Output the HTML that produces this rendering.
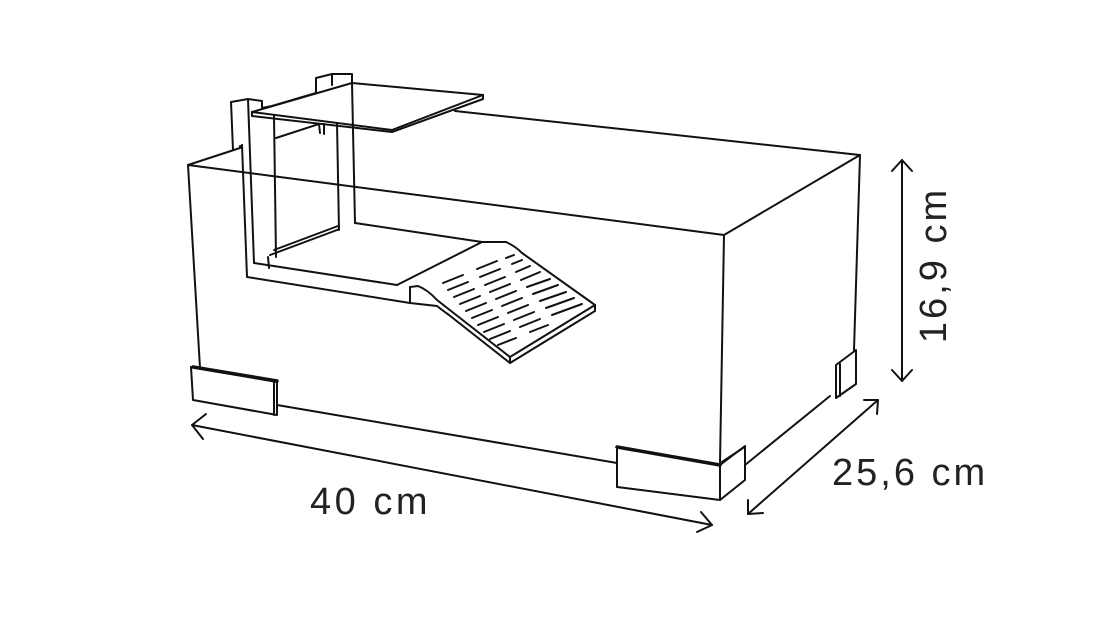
<!DOCTYPE html>
<html><head><meta charset="utf-8"><style>
html,body{margin:0;padding:0;background:#fff;width:1100px;height:627px;overflow:hidden}
text{font-family:"Liberation Sans",sans-serif;fill:#222}
</style></head><body>
<svg width="1100" height="627" viewBox="0 0 1100 627" xmlns="http://www.w3.org/2000/svg">
<g fill="none" stroke="#111" stroke-width="2" stroke-linejoin="round" stroke-linecap="round">
<polyline points="188,165 240,148 240,146"/>
<line x1="188" y1="165" x2="200" y2="368"/>
<line x1="188" y1="165" x2="724" y2="235"/>
<line x1="724" y1="235" x2="860" y2="155"/>
<line x1="455" y1="111" x2="860" y2="155"/>
<line x1="860" y1="155" x2="854" y2="350"/>
<line x1="724" y1="235" x2="720" y2="463"/>
<line x1="277" y1="405" x2="617" y2="463"/>
<line x1="745" y1="465" x2="830" y2="396"/>
<polyline points="233,150 231,102 248,99 262,101 262,108 272,106"/>
<line x1="248" y1="99" x2="254" y2="263"/>
<polyline points="242,145 247,277 410,303"/>
<line x1="242" y1="145" x2="240" y2="148"/>
<line x1="254" y1="263" x2="397" y2="285"/>
<polyline points="272,106 316,93 316,78 332,74 352,74 352,83"/>
<line x1="332" y1="74" x2="332" y2="85"/>
<line x1="352" y1="83" x2="355" y2="223"/>
<line x1="355" y1="223" x2="482" y2="242"/>
<line x1="337" y1="123" x2="339" y2="230"/>
<line x1="274" y1="116" x2="276" y2="257"/>
<line x1="276" y1="138" x2="319" y2="124"/>
<polyline points="270,255 337,230 339,229"/>
<line x1="274" y1="250" x2="338" y2="226"/>
<line x1="268" y1="257" x2="269" y2="268"/>
<line x1="319" y1="124" x2="320" y2="133"/>
<line x1="324" y1="124" x2="324" y2="134"/>
<polygon points="252,112 352,83 483,95 392,130"/>
<polyline points="252,112 252,116 392,132 483,99 483,95"/>
<line x1="397" y1="285" x2="482" y2="242"/>
<path d="M482,242 L506,242 Q515,246 522,253 L595,305"/>
<path d="M410,287 L418,286 Q428,290 437,300 L510,357"/>
<polyline points="595,305 595,311 510,363 510,357 595,305"/>
<line x1="410" y1="287" x2="410" y2="303"/>
<path d="M410,303 L437,306 Q442,310 449,315 L510,363"/>
<polygon points="191,367 277,382 277,415 193,400"/>
<line x1="193" y1="367" x2="277" y2="381" stroke-width="3.5"/>
<line x1="274" y1="382" x2="274" y2="415"/>
<polygon points="617,447 720,465 720,500 617,487"/>
<line x1="617" y1="447" x2="720" y2="465" stroke-width="3.5"/>
<polyline points="720,500 745,480 745,446 720,465"/>
<line x1="722" y1="462" x2="743" y2="448"/>
<polygon points="836,365 856,350 856,384 836,398"/>
<line x1="840" y1="364" x2="840" y2="396"/>
<line x1="192" y1="425" x2="712" y2="525"/>
<polyline points="206,414 192,425 203,439"/>
<polyline points="701,512 712,525 697,532"/>
<line x1="748" y1="514" x2="878" y2="400"/>
<polyline points="748,500 748,514 763,513"/>
<polyline points="864,400 878,400 877,414"/>
<line x1="902" y1="160" x2="902" y2="381"/>
<polyline points="892,171 902,160 912,171"/>
<polyline points="892,370 902,381 912,370"/>
</g>
<g stroke="#111" stroke-width="2" stroke-linecap="round">
<line x1="443" y1="283" x2="463" y2="275"/><line x1="477" y1="269" x2="497" y2="261"/><line x1="506" y1="258" x2="514" y2="255"/>
<line x1="448" y1="290" x2="468" y2="282"/><line x1="480" y1="277" x2="500" y2="269"/><line x1="512" y1="264" x2="522" y2="260"/>
<line x1="454" y1="297" x2="474" y2="289"/><line x1="485" y1="285" x2="505" y2="277"/><line x1="516" y1="272" x2="530" y2="266"/>
<line x1="460" y1="304" x2="480" y2="296"/><line x1="490" y1="292" x2="510" y2="284"/><line x1="521" y1="280" x2="540" y2="272"/>
<line x1="466" y1="311" x2="486" y2="303"/><line x1="496" y1="299" x2="516" y2="291"/><line x1="527" y1="287" x2="550" y2="279"/>
<line x1="472" y1="318" x2="492" y2="310"/><line x1="502" y1="306" x2="522" y2="298"/><line x1="533" y1="294" x2="558" y2="285"/>
<line x1="478" y1="325" x2="498" y2="317"/><line x1="508" y1="313" x2="528" y2="305"/><line x1="540" y1="301" x2="566" y2="292"/>
<line x1="484" y1="332" x2="504" y2="324"/><line x1="514" y1="320" x2="534" y2="312"/><line x1="546" y1="308" x2="574" y2="298"/>
<line x1="490" y1="339" x2="510" y2="331"/><line x1="520" y1="327" x2="540" y2="319"/><line x1="552" y1="315" x2="582" y2="304"/>
<line x1="498" y1="345" x2="516" y2="338"/><line x1="530" y1="332" x2="548" y2="325"/>
</g>
<text x="310" y="514" font-size="38" letter-spacing="3.5">40 cm</text>
<text x="832" y="485" font-size="38" letter-spacing="3">25,6 cm</text>
<text transform="translate(946,265) rotate(-90)" text-anchor="middle" font-size="38" letter-spacing="3">16,9 cm</text>
</svg>
</body></html>
